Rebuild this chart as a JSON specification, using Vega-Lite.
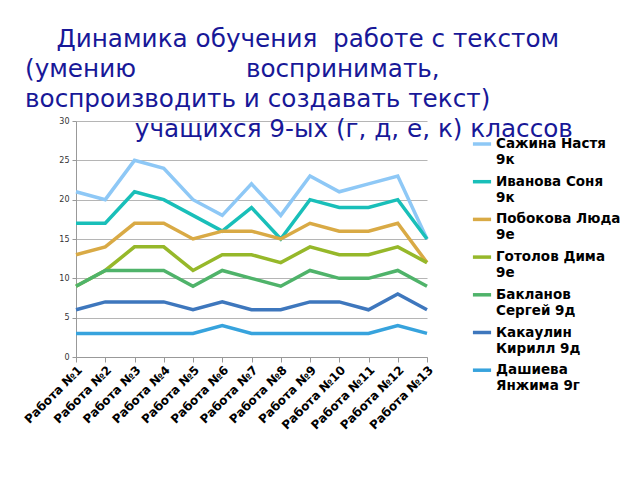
{
  "$schema": "https://vega.github.io/schema/vega-lite/v6.json",
  "autosize": "none",
  "width": 351,
  "height": 236,
  "padding": {"left": 76, "top": 121, "right": 213, "bottom": 123},
  "background": "white",
  "title": {
    "text": [
      "\u200b\u00a0\u00a0\u00a0\u00a0Динамика обучения \u00a0работе с текстом",
      "(умению\u00a0\u00a0\u00a0\u00a0\u00a0\u00a0\u00a0\u00a0\u00a0\u00a0\u00a0\u00a0\u00a0\u00a0воспринимать,",
      "воспроизводить и создавать текст)",
      "\u200b\u00a0\u00a0\u00a0\u00a0\u00a0\u00a0\u00a0\u00a0\u00a0\u00a0\u00a0\u00a0\u00a0\u00a0учащихся 9-ых (г, д, е, к) классов"
    ],
    "anchor": "start",
    "frame": "group",
    "font": "DejaVu Sans",
    "fontSize": 24.7,
    "fontWeight": "normal",
    "color": "#181898",
    "lineHeight": 30,
    "dx": -51,
    "offset": -25
  },
  "data": {
    "values": [
      {"work": "Работа №1", "name": "Сажина Настя|9к", "score": 21},
      {"work": "Работа №2", "name": "Сажина Настя|9к", "score": 20},
      {"work": "Работа №3", "name": "Сажина Настя|9к", "score": 25},
      {"work": "Работа №4", "name": "Сажина Настя|9к", "score": 24},
      {"work": "Работа №5", "name": "Сажина Настя|9к", "score": 20},
      {"work": "Работа №6", "name": "Сажина Настя|9к", "score": 18},
      {"work": "Работа №7", "name": "Сажина Настя|9к", "score": 22},
      {"work": "Работа №8", "name": "Сажина Настя|9к", "score": 18},
      {"work": "Работа №9", "name": "Сажина Настя|9к", "score": 23},
      {"work": "Работа №10", "name": "Сажина Настя|9к", "score": 21},
      {"work": "Работа №11", "name": "Сажина Настя|9к", "score": 22},
      {"work": "Работа №12", "name": "Сажина Настя|9к", "score": 23},
      {"work": "Работа №13", "name": "Сажина Настя|9к", "score": 15},
      {"work": "Работа №1", "name": "Иванова Соня|9к", "score": 17},
      {"work": "Работа №2", "name": "Иванова Соня|9к", "score": 17},
      {"work": "Работа №3", "name": "Иванова Соня|9к", "score": 21},
      {"work": "Работа №4", "name": "Иванова Соня|9к", "score": 20},
      {"work": "Работа №5", "name": "Иванова Соня|9к", "score": 18},
      {"work": "Работа №6", "name": "Иванова Соня|9к", "score": 16},
      {"work": "Работа №7", "name": "Иванова Соня|9к", "score": 19},
      {"work": "Работа №8", "name": "Иванова Соня|9к", "score": 15},
      {"work": "Работа №9", "name": "Иванова Соня|9к", "score": 20},
      {"work": "Работа №10", "name": "Иванова Соня|9к", "score": 19},
      {"work": "Работа №11", "name": "Иванова Соня|9к", "score": 19},
      {"work": "Работа №12", "name": "Иванова Соня|9к", "score": 20},
      {"work": "Работа №13", "name": "Иванова Соня|9к", "score": 15},
      {"work": "Работа №1", "name": "Побокова Люда|9е", "score": 13},
      {"work": "Работа №2", "name": "Побокова Люда|9е", "score": 14},
      {"work": "Работа №3", "name": "Побокова Люда|9е", "score": 17},
      {"work": "Работа №4", "name": "Побокова Люда|9е", "score": 17},
      {"work": "Работа №5", "name": "Побокова Люда|9е", "score": 15},
      {"work": "Работа №6", "name": "Побокова Люда|9е", "score": 16},
      {"work": "Работа №7", "name": "Побокова Люда|9е", "score": 16},
      {"work": "Работа №8", "name": "Побокова Люда|9е", "score": 15},
      {"work": "Работа №9", "name": "Побокова Люда|9е", "score": 17},
      {"work": "Работа №10", "name": "Побокова Люда|9е", "score": 16},
      {"work": "Работа №11", "name": "Побокова Люда|9е", "score": 16},
      {"work": "Работа №12", "name": "Побокова Люда|9е", "score": 17},
      {"work": "Работа №13", "name": "Побокова Люда|9е", "score": 12},
      {"work": "Работа №1", "name": "Готолов Дима|9е", "score": 9},
      {"work": "Работа №2", "name": "Готолов Дима|9е", "score": 11},
      {"work": "Работа №3", "name": "Готолов Дима|9е", "score": 14},
      {"work": "Работа №4", "name": "Готолов Дима|9е", "score": 14},
      {"work": "Работа №5", "name": "Готолов Дима|9е", "score": 11},
      {"work": "Работа №6", "name": "Готолов Дима|9е", "score": 13},
      {"work": "Работа №7", "name": "Готолов Дима|9е", "score": 13},
      {"work": "Работа №8", "name": "Готолов Дима|9е", "score": 12},
      {"work": "Работа №9", "name": "Готолов Дима|9е", "score": 14},
      {"work": "Работа №10", "name": "Готолов Дима|9е", "score": 13},
      {"work": "Работа №11", "name": "Готолов Дима|9е", "score": 13},
      {"work": "Работа №12", "name": "Готолов Дима|9е", "score": 14},
      {"work": "Работа №13", "name": "Готолов Дима|9е", "score": 12},
      {"work": "Работа №1", "name": "Бакланов|Сергей 9д", "score": 9},
      {"work": "Работа №2", "name": "Бакланов|Сергей 9д", "score": 11},
      {"work": "Работа №3", "name": "Бакланов|Сергей 9д", "score": 11},
      {"work": "Работа №4", "name": "Бакланов|Сергей 9д", "score": 11},
      {"work": "Работа №5", "name": "Бакланов|Сергей 9д", "score": 9},
      {"work": "Работа №6", "name": "Бакланов|Сергей 9д", "score": 11},
      {"work": "Работа №7", "name": "Бакланов|Сергей 9д", "score": 10},
      {"work": "Работа №8", "name": "Бакланов|Сергей 9д", "score": 9},
      {"work": "Работа №9", "name": "Бакланов|Сергей 9д", "score": 11},
      {"work": "Работа №10", "name": "Бакланов|Сергей 9д", "score": 10},
      {"work": "Работа №11", "name": "Бакланов|Сергей 9д", "score": 10},
      {"work": "Работа №12", "name": "Бакланов|Сергей 9д", "score": 11},
      {"work": "Работа №13", "name": "Бакланов|Сергей 9д", "score": 9},
      {"work": "Работа №1", "name": "Какаулин|Кирилл 9д", "score": 6},
      {"work": "Работа №2", "name": "Какаулин|Кирилл 9д", "score": 7},
      {"work": "Работа №3", "name": "Какаулин|Кирилл 9д", "score": 7},
      {"work": "Работа №4", "name": "Какаулин|Кирилл 9д", "score": 7},
      {"work": "Работа №5", "name": "Какаулин|Кирилл 9д", "score": 6},
      {"work": "Работа №6", "name": "Какаулин|Кирилл 9д", "score": 7},
      {"work": "Работа №7", "name": "Какаулин|Кирилл 9д", "score": 6},
      {"work": "Работа №8", "name": "Какаулин|Кирилл 9д", "score": 6},
      {"work": "Работа №9", "name": "Какаулин|Кирилл 9д", "score": 7},
      {"work": "Работа №10", "name": "Какаулин|Кирилл 9д", "score": 7},
      {"work": "Работа №11", "name": "Какаулин|Кирилл 9д", "score": 6},
      {"work": "Работа №12", "name": "Какаулин|Кирилл 9д", "score": 8},
      {"work": "Работа №13", "name": "Какаулин|Кирилл 9д", "score": 6},
      {"work": "Работа №1", "name": "Дашиева|Янжима 9г", "score": 3},
      {"work": "Работа №2", "name": "Дашиева|Янжима 9г", "score": 3},
      {"work": "Работа №3", "name": "Дашиева|Янжима 9г", "score": 3},
      {"work": "Работа №4", "name": "Дашиева|Янжима 9г", "score": 3},
      {"work": "Работа №5", "name": "Дашиева|Янжима 9г", "score": 3},
      {"work": "Работа №6", "name": "Дашиева|Янжима 9г", "score": 4},
      {"work": "Работа №7", "name": "Дашиева|Янжима 9г", "score": 3},
      {"work": "Работа №8", "name": "Дашиева|Янжима 9г", "score": 3},
      {"work": "Работа №9", "name": "Дашиева|Янжима 9г", "score": 3},
      {"work": "Работа №10", "name": "Дашиева|Янжима 9г", "score": 3},
      {"work": "Работа №11", "name": "Дашиева|Янжима 9г", "score": 3},
      {"work": "Работа №12", "name": "Дашиева|Янжима 9г", "score": 4},
      {"work": "Работа №13", "name": "Дашиева|Янжима 9г", "score": 3}
    ]
  },
  "mark": {"type": "line", "strokeWidth": 3.5, "strokeJoin": "miter", "clip": false},
  "encoding": {
    "x": {
      "field": "work",
      "type": "ordinal",
      "sort": null,
      "scale": {"type": "point", "padding": 0},
      "axis": {
        "title": null,
        "labelAngle": -45,
        "labelAlign": "right",
        "labelBaseline": "top",
        "labelFont": "DejaVu Sans",
        "labelFontWeight": "bold",
        "labelFontSize": 12,
        "labelColor": "#000",
        "labelPadding": 2,
        "domainColor": "#999",
        "tickColor": "#999",
        "tickSize": 5,
        "grid": false
      }
    },
    "y": {
      "field": "score",
      "type": "quantitative",
      "scale": {"domain": [0, 30]},
      "axis": {
        "title": null,
        "values": [0, 5, 10, 15, 20, 25, 30],
        "labelFont": "DejaVu Sans",
        "labelFontSize": 8,
        "labelColor": "#333",
        "labelPadding": 3,
        "domainColor": "#999",
        "tickColor": "#999",
        "tickSize": 4,
        "gridColor": "#b5b5b5",
        "gridWidth": 1.2
      }
    },
    "color": {
      "field": "name",
      "type": "nominal",
      "scale": {
        "domain": ["Сажина Настя|9к", "Иванова Соня|9к", "Побокова Люда|9е", "Готолов Дима|9е", "Бакланов|Сергей 9д", "Какаулин|Кирилл 9д", "Дашиева|Янжима 9г"],
        "range": ["#8ec8f6", "#19bfb9", "#d9aa45", "#96b82a", "#4fb36a", "#3e77bd", "#37a3dd"]
      },
      "legend": {
        "title": null,
        "orient": "none",
        "legendX": 395,
        "legendY": 12,
        "symbolType": "stroke",
        "symbolStrokeWidth": 3.5,
        "symbolSize": 330,
        "labelExpr": "split(datum.label, '|')",
        "labelFont": "DejaVu Sans",
        "labelFontWeight": "bold",
        "labelFontSize": 13.5,
        "labelColor": "#000",
        "labelBaseline": "top",
        "labelOffset": 3,
        "labelLimit": 200,
        "rowPadding": 3.7,
        "encode": {
          "labels": {"update": {"dy": {"value": -7}, "lineHeight": {"value": 16}}}
        }
      }
    }
  },
  "config": {"view": {"stroke": null}}
}
